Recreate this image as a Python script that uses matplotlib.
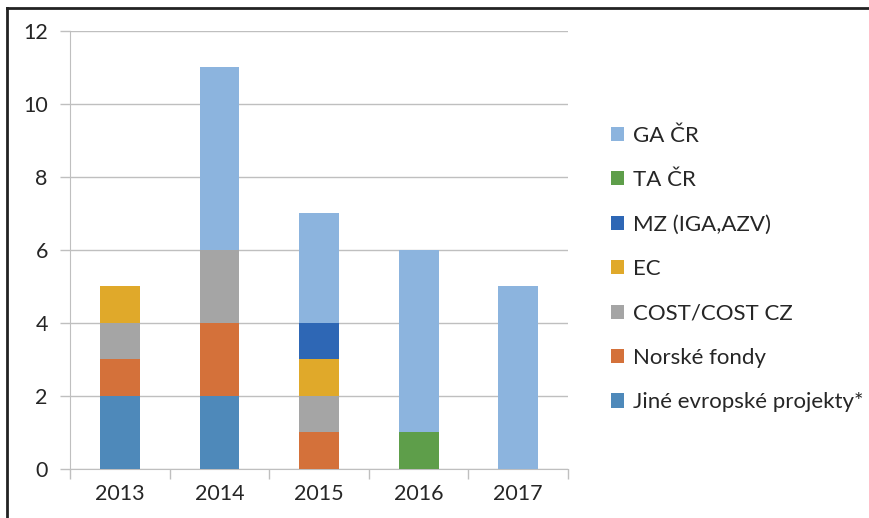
import matplotlib
matplotlib.use('Agg')
import matplotlib.pyplot as plt
from matplotlib.lines import Line2D
import numpy as np

plt.rcParams['font.family'] = ['Lato', 'DejaVu Sans']

years = ['2013', '2014', '2015', '2016', '2017']
# stacked from the bottom up
series = ['Jiné evropské projekty*', 'Norské fondy', 'COST/COST CZ', 'EC',
          'MZ (IGA,AZV)', 'TA ČR', 'GA ČR']
jine = [2, 2, 0, 0, 0]
norske = [1, 2, 1, 0, 0]
cost = [1, 2, 1, 0, 0]
ec = [1, 0, 1, 0, 0]
mz = [0, 0, 1, 0, 0]
ta = [0, 0, 0, 1, 0]
ga = [0, 5, 3, 5, 5]
colors = ['#4E89BA', '#D4713A', '#A5A5A5', '#E0A92A', '#2E67B5', '#5E9E4A', '#8CB4DE']

fig = plt.figure(figsize=(8.69, 5.18), dpi=100)
ax = fig.add_axes([0.0806, 0.0946, 0.573, 0.8456])

x = np.arange(len(years))
bottom = np.zeros(len(years))
handles = []
for name, vals, c in zip(series, [jine, norske, cost, ec, mz, ta, ga], colors):
    b = ax.bar(x, vals, 0.4, bottom=bottom, color=c, label=name, zorder=3)
    handles.append(b)
    bottom += np.array(vals)

grey = '#BFBFBF'
ax.set_ylim(0, 12)
ax.set_xlim(-0.5, 4.5)
ax.set_yticks(range(0, 13, 2))
ax.yaxis.grid(True, color=grey, lw=1, zorder=0)
ax.set_xticks(x)
ax.set_xticklabels(years)
ax.set_xticks(np.arange(-0.5, 5, 1), minor=True)
ax.tick_params(axis='x', which='major', length=0, pad=11, labelsize=15.5, labelcolor='#262626')
ax.tick_params(axis='x', which='minor', length=7, color=grey, width=1)
ax.tick_params(axis='y', length=7, color=grey, width=1, labelsize=15.5, labelcolor='#262626', pad=9)
for s in ['top', 'right']:
    ax.spines[s].set_visible(False)
ax.spines['left'].set_color(grey)
ax.spines['bottom'].set_color(grey)

fig.legend(handles[::-1], series[::-1], loc='upper left', bbox_to_anchor=(0.68, 0.796),
           frameon=False, fontsize=16, handlelength=0.6, handleheight=0.6,
           handletextpad=0.4, labelspacing=1.1, labelcolor='#262626')

# outer frame
fig.add_artist(Line2D([0.008, 1.0], [0.985, 0.985], color='#222222', lw=2))
fig.add_artist(Line2D([0.008, 0.008], [0.0, 0.985], color='#222222', lw=2))

fig.savefig('out.png', dpi=100)
